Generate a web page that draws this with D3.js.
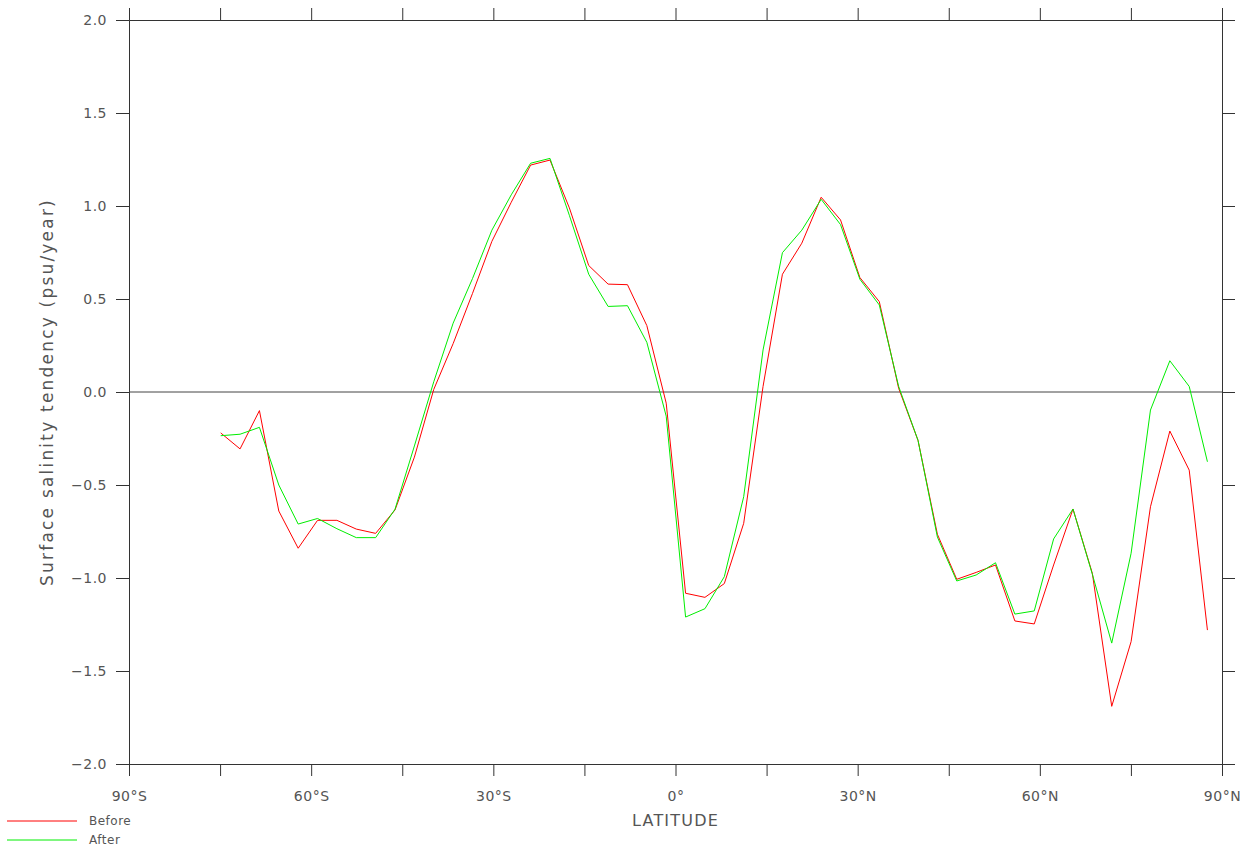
<!DOCTYPE html>
<html>
<head>
<meta charset="utf-8">
<script src="https://cdn.jsdelivr.net/npm/d3@7"></script>
<style>
  body { margin: 0; background: #fff; }
  text { font-family: "DejaVu Sans", sans-serif; fill: #555; }
</style>
</head>
<body>
<div class="chart"></div>
<script>
// chart size and plot margins
const WIDTH = 1246;
const HEIGHT = 847;
const MARGIN = { top: 20, right: 24, bottom: 83, left: 129 };

// latitude of each grid row (degrees north)
const lats = [-74.9, -71.71, -68.52, -65.33, -62.14, -58.95, -55.76, -52.57, -49.38, -46.19,
  -43.0, -39.81, -36.62, -33.43, -30.24, -27.05, -23.86, -20.67, -17.48, -14.29,
  -11.1, -7.91, -4.72, -1.53, 1.66, 4.85, 8.04, 11.23, 14.42, 17.61,
  20.8, 23.99, 27.18, 30.37, 33.56, 36.75, 39.94, 43.13, 46.32, 49.51,
  52.7, 55.89, 59.08, 62.27, 65.46, 68.65, 71.84, 75.03, 78.22, 81.41,
  84.6, 87.6];

// surface salinity tendency, psu/year
const before = [-0.22, -0.306, -0.10, -0.64, -0.84, -0.69, -0.69, -0.737, -0.76, -0.634,
  -0.35, 0.014, 0.26, 0.53, 0.81, 1.02, 1.22, 1.247, 0.99, 0.68,
  0.58, 0.577, 0.357, -0.06, -1.082, -1.104, -1.03, -0.706, 0.03, 0.633,
  0.80, 1.047, 0.925, 0.615, 0.486, 0.02, -0.26, -0.765, -1.007, -0.97,
  -0.93, -1.231, -1.247, -0.93, -0.629, -0.975, -1.69, -1.342, -0.617, -0.21,
  -0.42, -1.28];

const after = [-0.235, -0.227, -0.19, -0.50, -0.71, -0.68, -0.735, -0.783, -0.783, -0.63,
  -0.29, 0.055, 0.37, 0.61, 0.87, 1.06, 1.23, 1.256, 0.95, 0.633,
  0.46, 0.464, 0.267, -0.13, -1.21, -1.165, -0.993, -0.563, 0.226, 0.749,
  0.87, 1.036, 0.90, 0.606, 0.468, 0.03, -0.26, -0.78, -1.016, -0.984,
  -0.918, -1.194, -1.177, -0.79, -0.629, -0.98, -1.35, -0.867, -0.097, 0.168,
  0.03, -0.375];

const xTicks = [-90, -60, -30, 0, 30, 60, 90];
const xMinor = [-90, -75, -60, -45, -30, -15, 0, 15, 30, 45, 60, 75, 90];
const yTicks = [-2.0, -1.5, -1.0, -0.5, 0.0, 0.5, 1.0, 1.5, 2.0];

const series = [
  { name: "Before", values: before, color: "#ff0000" },
  { name: "After", values: after, color: "#00ee00" },
];

const svg = d3.select(".chart").append("svg")
  .attr("width", WIDTH)
  .attr("height", HEIGHT);

const x = d3.scaleLinear().domain([-90, 90]).range([MARGIN.left, WIDTH - MARGIN.right]);
const y = d3.scaleLinear().domain([-2, 2]).range([HEIGHT - MARGIN.bottom, MARGIN.top]);

const latFmt = (d) => d === 0 ? "0°" : Math.abs(d) + "°" + (d < 0 ? "S" : "N");

// bottom axis: minor ticks every 15°, labels every 30°
svg.append("g")
  .attr("transform", `translate(0,${y(-2)})`)
  .call(d3.axisBottom(x).tickValues(xMinor).tickSize(12).tickFormat((d) => xTicks.includes(d) ? latFmt(d) : ""))
  .call((g) => g.selectAll("text").attr("dy", "1.55em").style("font-size", "14px").style("letter-spacing", "0.5px"));

// top axis, ticks only
svg.append("g")
  .attr("transform", `translate(0,${y(2)})`)
  .call(d3.axisTop(x).tickValues(xMinor).tickSize(12).tickFormat(""));

// left axis
svg.append("g")
  .attr("transform", `translate(${x(-90)},0)`)
  .call(d3.axisLeft(y).tickValues(yTicks).tickSize(13).tickFormat((d) => d3.format(".1f")(d)))
  .call((g) => g.selectAll("text").attr("x", -22).style("font-size", "14px").style("letter-spacing", "0.5px"));

// right axis
svg.append("g")
  .attr("transform", `translate(${x(90)},0)`)
  .call(d3.axisRight(y).tickValues(yTicks).tickSize(13).tickFormat(""));

svg.selectAll(".domain, .tick line").attr("stroke", "#333");
svg.selectAll(".tick text").style("fill", "#555").style("font-family", "'DejaVu Sans', sans-serif");

// zero line
svg.append("line")
  .attr("x1", x(-90)).attr("x2", x(90))
  .attr("y1", y(0)).attr("y2", y(0))
  .attr("stroke", "#444");

// data lines
const line = d3.line()
  .x((d, i) => x(lats[i]))
  .y((d) => y(d));

svg.selectAll(".series")
  .data(series)
  .join("path")
  .attr("class", "series")
  .attr("fill", "none")
  .attr("stroke", (d) => d.color)
  .attr("stroke-width", 1)
  .attr("d", (d) => line(d.values));

// axis titles
svg.append("text")
  .attr("x", (x(-90) + x(90)) / 2)
  .attr("y", 826)
  .attr("text-anchor", "middle")
  .style("font-size", "16px")
  .style("letter-spacing", "1.2px")
  .text("LATITUDE");

svg.append("text")
  .attr("transform", `translate(53,${y(0)}) rotate(-90)`)
  .attr("text-anchor", "middle")
  .style("font-size", "17px")
  .style("letter-spacing", "2.2px")
  .text("Surface salinity tendency (psu/year)");

// legend in the bottom-left corner
const legend = svg.append("g");
series.forEach((s, i) => {
  const ly = 821 + i * 19;
  legend.append("line")
    .attr("x1", 7).attr("x2", 77)
    .attr("y1", ly).attr("y2", ly)
    .attr("stroke", s.color);
  legend.append("text")
    .attr("x", 89).attr("y", ly + 4)
    .style("font-size", "12px")
    .style("letter-spacing", "0.5px")
    .text(s.name);
});
</script>
</body>
</html>
